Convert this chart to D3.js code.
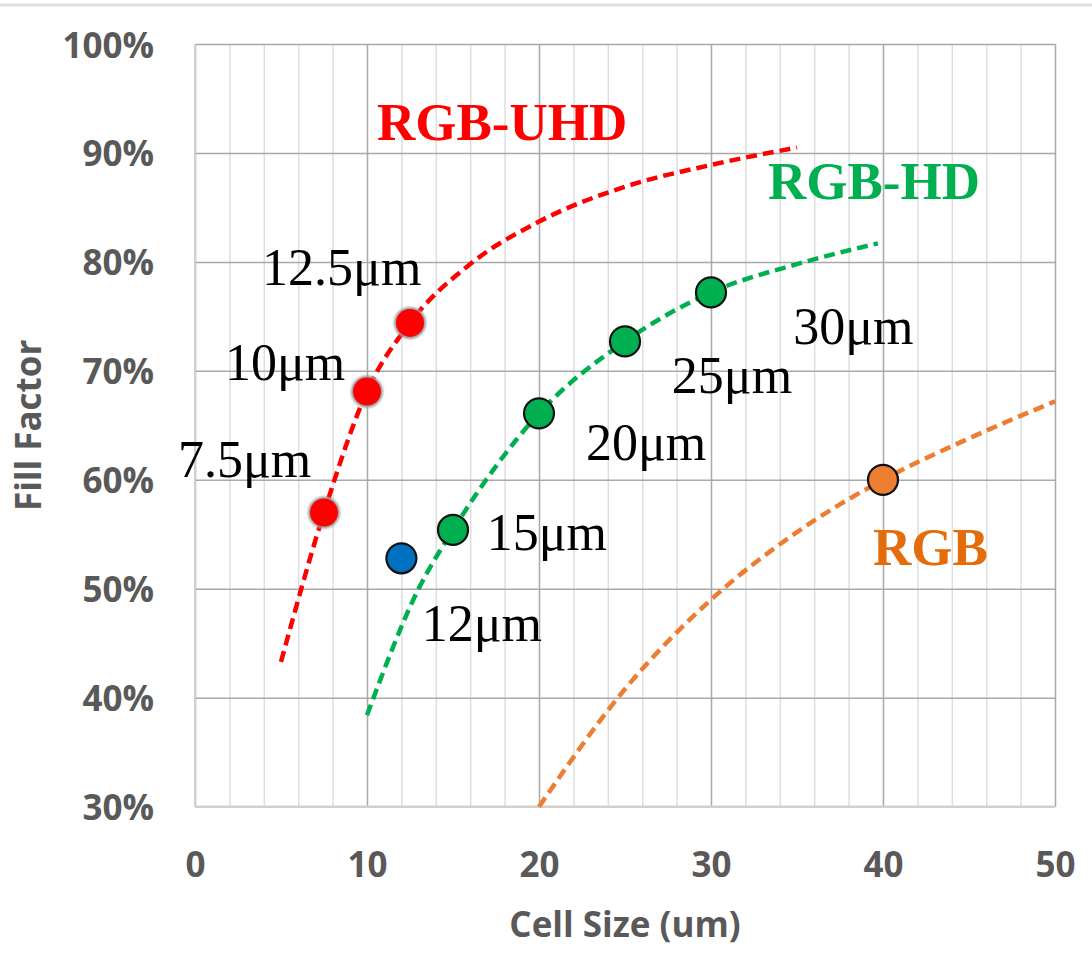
<!DOCTYPE html>
<html>
<head>
<meta charset="utf-8">
<script src="https://cdn.jsdelivr.net/npm/d3@7/dist/d3.min.js"></script>
<style>
  body { margin: 0; background: #fff; }
  svg { display: block; }
</style>
</head>
<body>
<svg id="chart" width="1092" height="977"></svg>
<script>
// ---- data ----
const xTickValues = [0, 10, 20, 30, 40, 50];
const yTickValues = [0.3, 0.4, 0.5, 0.6, 0.7, 0.8, 0.9, 1.0];

// dashed trend curves (cell size in um, fill factor)
const uhdCurveX = [5, 7.5, 10, 12.5, 16, 20, 25, 30, 35];
const uhdCurveY = [0.433, 0.570, 0.681, 0.744, 0.798, 0.837, 0.869, 0.889, 0.905];
const hdCurveX = [10, 13, 15, 20, 25, 30, 35, 39.7];
const hdCurveY = [0.384, 0.500, 0.554, 0.661, 0.727, 0.772, 0.798, 0.817];
const rgbCurveX = [20, 25, 30, 35, 40, 45, 50];
const rgbCurveY = [0.300, 0.408, 0.490, 0.552, 0.600, 0.638, 0.672];

// measured cells
const uhdPointX = [7.5, 10, 12.5];
const uhdPointY = [0.570, 0.681, 0.744];
const hdPointX = [15, 20, 25, 30];
const hdPointY = [0.554, 0.661, 0.727, 0.772];
const rgbPointX = [40];
const rgbPointY = [0.600];
const otherPointX = [12];
const otherPointY = [0.528];

// text annotations
const seriesNames = ["RGB-UHD", "RGB-HD", "RGB"];
const sizeLabels = ["7.5μm", "10μm", "12.5μm", "12μm", "15μm", "20μm", "25μm", "30μm"];

// ---- layout ----
const svg = d3.select("#chart");
const margin = { left: 195, top: 44, right: 1092 - 1055, bottom: 977 - 806.7 };
const W = 1092 - margin.left - margin.right;
const H = 977 - margin.top - margin.bottom;

const x = d3.scaleLinear().domain([0, 50]).range([0, W]);
const y = d3.scaleLinear().domain([0.3, 1.0]).range([H, 0]);

const COL = {
  red: "#ff0000", green: "#00b050", orange: "#ed7d31", orangeText: "#e46c0a",
  blue: "#0070c0", tick: "#595959"
};

// thin rule along the top edge of the figure
svg.append("line").attr("x1", 0).attr("x2", 1092).attr("y1", 5).attr("y2", 5)
  .attr("stroke", "#e0e0e0").attr("stroke-width", 3);

const g = svg.append("g").attr("transform", `translate(${margin.left},${margin.top})`);

// minor vertical grid (every 2 um)
g.append("g")
  .attr("transform", `translate(0,${H})`)
  .call(d3.axisBottom(x).tickValues(d3.range(2, 50, 2).filter(v => v % 10 !== 0))
    .tickSize(-H).tickFormat(""))
  .call(a => a.select(".domain").remove())
  .call(a => a.selectAll("line").attr("stroke", "#dedede").attr("stroke-width", 1.5));

// horizontal major grid + y labels
const yAxis = g.append("g")
  .call(d3.axisLeft(y).tickValues(yTickValues).tickSize(-W).tickFormat(d3.format(".0%")))
  .call(a => a.select(".domain").remove());
yAxis.selectAll("line").attr("stroke", "#a9a9a9").attr("stroke-width", 1.5);
yAxis.selectAll("text")
  .attr("x", -41).attr("dy", null).attr("y", 13)
  .attr("text-anchor", "end")
  .style("font-family", "'Open Sans', sans-serif").style("font-weight", 700)
  .style("font-size", "35px").attr("fill", COL.tick);

// vertical major grid + x labels
const xAxis = g.append("g")
  .attr("transform", `translate(0,${H})`)
  .call(d3.axisBottom(x).tickValues(xTickValues).tickSize(-H))
  .call(a => a.select(".domain").remove());
xAxis.selectAll("line").attr("stroke", "#a9a9a9").attr("stroke-width", 1.5);
xAxis.selectAll("text")
  .attr("y", 70).attr("dy", null)
  .style("font-family", "'Open Sans', sans-serif").style("font-weight", 700)
  .style("font-size", "35px").attr("fill", COL.tick);

// axis lines
g.append("line").attr("x1", 0).attr("x2", W).attr("y1", H).attr("y2", H)
  .attr("stroke", "#d0d0d0").attr("stroke-width", 2.5);
g.append("line").attr("x1", 0).attr("x2", 0).attr("y1", 0).attr("y2", H)
  .attr("stroke", "#d0d0d0").attr("stroke-width", 2);

// axis titles
svg.append("text")
  .attr("x", margin.left + W / 2).attr("y", 937)
  .attr("text-anchor", "middle")
  .style("font-family", "'Open Sans', sans-serif").style("font-weight", 700)
  .style("font-size", "35px").attr("fill", COL.tick)
  .text("Cell Size (um)");
svg.append("text")
  .attr("transform", `translate(41,${margin.top + H / 2}) rotate(-90)`)
  .attr("text-anchor", "middle")
  .style("font-family", "'Open Sans', sans-serif").style("font-weight", 700)
  .style("font-size", "35px").attr("fill", COL.tick)
  .text("Fill Factor");

// dashed trend curves
const line = d3.line().x(d => x(d[0])).y(d => y(d[1])).curve(d3.curveMonotoneX);
const curves = [
  { xs: uhdCurveX, ys: uhdCurveY, color: COL.red },
  { xs: hdCurveX, ys: hdCurveY, color: COL.green },
  { xs: rgbCurveX, ys: rgbCurveY, color: COL.orange }
];
curves.forEach(c => {
  g.append("path")
    .datum(c.xs.map((v, i) => [v, c.ys[i]]))
    .attr("d", line)
    .attr("fill", "none")
    .attr("stroke", c.color)
    .attr("stroke-width", 4.5)
    .attr("stroke-dasharray", "11 6");
});

// soft halo for the UHD markers
const defs = svg.append("defs");
defs.append("filter").attr("id", "halo").attr("x", "-50%").attr("y", "-50%")
  .attr("width", "200%").attr("height", "200%")
  .append("feGaussianBlur").attr("stdDeviation", 1.3);

const uhdPts = uhdPointX.map((v, i) => [v, uhdPointY[i]]);
g.append("g").selectAll("circle").data(uhdPts).join("circle")
  .attr("cx", d => x(d[0])).attr("cy", d => y(d[1])).attr("r", 16)
  .attr("fill", "#9c9c9c").attr("filter", "url(#halo)");
g.append("g").selectAll("circle").data(uhdPts).join("circle")
  .attr("cx", d => x(d[0])).attr("cy", d => y(d[1])).attr("r", 14)
  .attr("fill", COL.red);

const outlined = [
  { xs: hdPointX, ys: hdPointY, color: COL.green },
  { xs: rgbPointX, ys: rgbPointY, color: COL.orange },
  { xs: otherPointX, ys: otherPointY, color: COL.blue }
];
outlined.forEach(s => {
  g.append("g").selectAll("circle")
    .data(s.xs.map((v, i) => [v, s.ys[i]])).join("circle")
    .attr("cx", d => x(d[0])).attr("cy", d => y(d[1])).attr("r", 15)
    .attr("fill", s.color).attr("stroke", "#111").attr("stroke-width", 2.2);
});

// series names, anchored in data units (left edge, baseline)
const nameNotes = [
  { text: seriesNames[0], at: [10.58, 0.912], color: COL.red },
  { text: seriesNames[1], at: [33.31, 0.858], color: COL.green },
  { text: seriesNames[2], at: [39.42, 0.522], color: COL.orangeText }
];
g.append("g").selectAll("text").data(nameNotes).join("text")
  .attr("x", d => x(d.at[0])).attr("y", d => y(d.at[1]))
  .style("font-family", "'Liberation Serif', 'Times New Roman', serif")
  .style("font-weight", 700).style("font-size", "53px")
  .attr("fill", d => d.color)
  .text(d => d.text);

// cell size labels
const sizeNotes = [
  { text: sizeLabels[0], at: [-0.99, 0.6025] },
  { text: sizeLabels[1], at: [1.74, 0.6913] },
  { text: sizeLabels[2], at: [3.90, 0.7786] },
  { text: sizeLabels[3], at: [13.18, 0.4525] },
  { text: sizeLabels[4], at: [16.96, 0.5352] },
  { text: sizeLabels[5], at: [22.73, 0.6179] },
  { text: sizeLabels[6], at: [27.72, 0.6794] },
  { text: sizeLabels[7], at: [34.78, 0.7244] }
];
g.append("g").selectAll("text").data(sizeNotes).join("text")
  .attr("x", d => x(d.at[0])).attr("y", d => y(d.at[1]))
  .style("font-family", "'Liberation Serif', 'Times New Roman', serif")
  .style("font-size", "52px").attr("fill", "#000")
  .text(d => d.text);
</script>
</body>
</html>
